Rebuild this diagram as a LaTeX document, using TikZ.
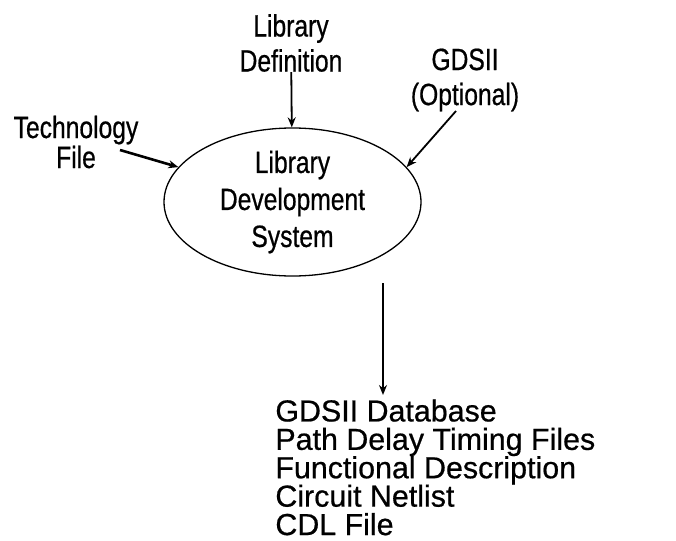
\documentclass[tikz,border=0pt]{standalone}
\usepackage{fontspec}
\setmainfont[FakeBold=0.6]{Liberation Sans}
\newfontfamily\narrowfont[FakeStretch=0.8, FakeBold=0.6]{Liberation Sans}
\usetikzlibrary{arrows.meta, positioning, shapes.geometric}

\tikzset{
  label text/.style={align=center, inner sep=0pt, font=\narrowfont\fontsize{15.4}{17.5}\selectfont},
  flow/.style={-{Stealth[length=5pt, width=4pt]}, line width=0.9pt}
}

\begin{document}
\begin{tikzpicture}[x=0.5pt, y=-0.5pt]
    \useasboundingbox (0,0) rectangle (676,541);
    % Centre node
    \node (lds) [draw, ellipse, line width=0.65pt, minimum width=128.5pt, minimum height=74pt,
                 inner sep=0pt, align=center, font=\narrowfont\fontsize{15.4}{18.5}\selectfont]
        at (292.5,202) {Library\\Development\\System};
    % Top node
    \node (libdef) [label text] at (291,43) {Library\\Definition};
    % Top-right node
    \node (gds) [label text] at (465,80) {GDSII\\(Optional)};
    % Left node
    \node (tech) [label text, font=\narrowfont\fontsize{15.4}{15}\selectfont] at (76,142) {Technology\\File};
    % Bottom node
    \node (outlist) [align=left, inner sep=0pt, anchor=north west,
                     font=\fontsize{15.2}{14.2}\selectfont] at (275,399)
        {GDSII Database\\Path Delay Timing Files\\Functional Description\\Circuit Netlist\\CDL File};

    % Free ends
    \coordinate (techout) at (120,150);
    \coordinate (gdsout) at (456,111);
    \coordinate (sysout) at (383,283);

    % Edges
    \draw [flow] (libdef) -- (lds);
    \draw [flow, line width=1.3pt] (techout) -- (lds.163);
    \draw [flow] (gdsout) -- (lds.17);
    \draw [flow] (sysout) -- ([yshift=2pt]sysout |- outlist.north);
\end{tikzpicture}
\end{document}
